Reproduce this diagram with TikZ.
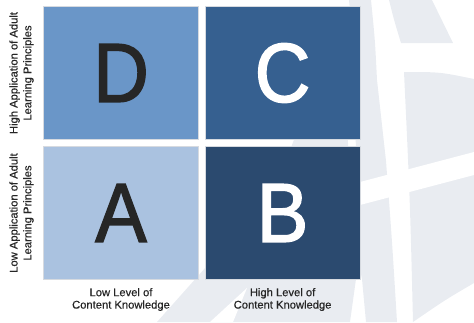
\documentclass[tikz,border=0pt]{standalone}
\usepackage{fontspec}
\setmainfont{Liberation Sans}
\newfontfamily\bigletterfont[FakeStretch=0.92,FakeBold=1.6]{Liberation Sans}
\newfontfamily\labelfont[FakeBold=0.5]{Liberation Sans}
\definecolor{wm}{HTML}{E9ECF1}
\definecolor{cD}{HTML}{6A96C8}
\definecolor{cC}{HTML}{366090}
\definecolor{cA}{HTML}{AAC2E0}
\definecolor{cB}{HTML}{2B4A6F}
\definecolor{txt}{HTML}{262626}
\definecolor{edge}{HTML}{D6DAE0}
\begin{document}
\begin{tikzpicture}[x=1pt,y=-1pt,
  quad/.style={draw=edge, line width=0.8pt, inner sep=0pt,
    minimum width=155pt, minimum height=132.6pt,
    font=\bigletterfont\fontsize{84}{84}\selectfont},
  lab/.style={font=\labelfont\fontsize{11.2}{12.4}\selectfont, text=txt, align=center, inner sep=0pt},
  vlab/.style={lab, font=\labelfont\fontsize{11.2}{13.8}\selectfont, rotate=90}]
\useasboundingbox (0,0) rectangle (474,322);
% --- watermark (globe) ---
\fill[wm] (157,322) -- (230,240) -- (290,150) -- (325,60) -- (335,10) -- (340,10)
  -- (345,100) -- (352,200) -- (356,279) -- (350,322) -- cycle;
\fill[wm] (349,0) -- (371,0) .. controls (375,40) .. (377,80) -- (386,161)
  .. controls (392,240) .. (397,322) -- (366,322) -- (362,279) -- (358,260)
  -- (356,150) -- (352,30) -- cycle;
\fill[wm] (389,0) -- (432,0) -- (453,43) -- (401,43) .. controls (394,20) .. cycle;
\fill[wm] (404,72) .. controls (440,72) .. (474,79) -- (474,283)
  .. controls (445,300) .. (413,322) .. controls (410,200) .. cycle;
\fill[white] (360,182) -- (474,152) -- (474,175) -- (360,205) -- cycle;
\fill[white] (210,322) -- (247,288) -- (233,322) -- cycle;
% --- quadrants ---
\node[quad, fill=cD, text=txt]   (D) at (121,73)    {D};
\node[quad, fill=cC, text=white] (C) at (282.6,73)  {C};
\node[quad, fill=cA, text=txt]   (A) at (121,213)   {A};
\node[quad, fill=cB, text=white] (B) at (282.6,213) {B};
% --- axis labels ---
\node[vlab] (yhigh) at (21.5,73)  {High Application of Adult\\Learning Principles};
\node[vlab] (ylow)  at (21.5,213) {Low Application of Adult\\Learning Principles};
\node[lab] (xlow)  at (121,299.5)   {Low Level of\\Content Knowledge};
\node[lab] (xhigh) at (282.6,299.5) {High Level of\\Content Knowledge};
\end{tikzpicture}
\end{document}
